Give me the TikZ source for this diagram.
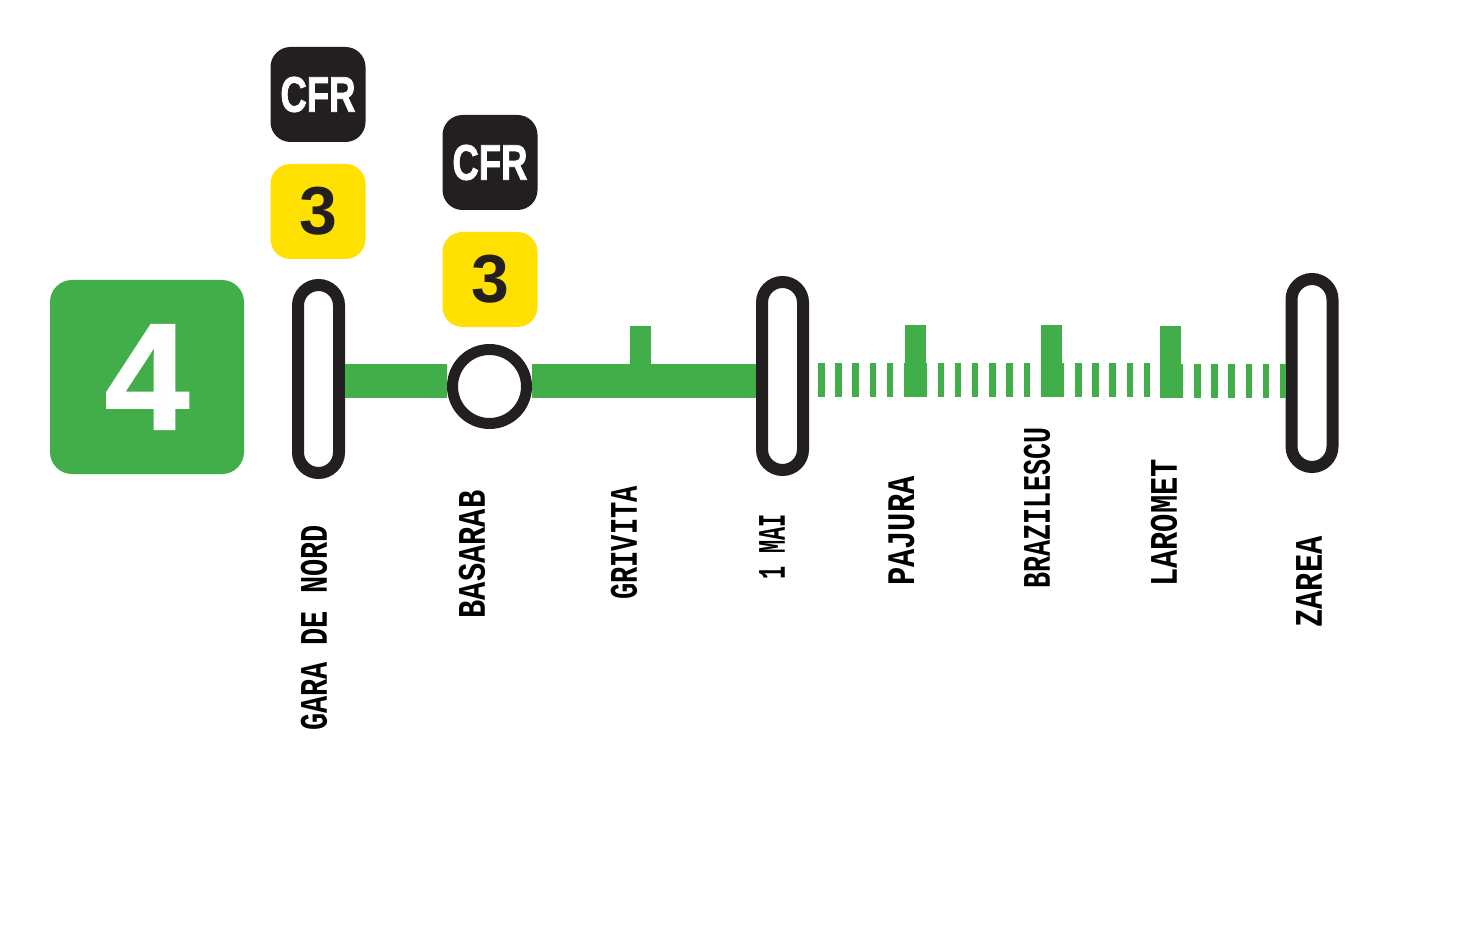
\documentclass[tikz,border=0pt]{standalone}
\usepackage{fontspec}
\setmainfont{Liberation Sans}
\newfontfamily\fonteCFR[FakeStretch=0.73,FakeBold=1.5]{Liberation Sans}
\newfontfamily\fonteLCD[FakeStretch=0.78]{Liberation Mono}
\newfontfamily\fonteNum[FakeBold=1.2]{Liberation Sans}
\definecolor{vertligne}{HTML}{41AE4A}
\definecolor{noirstation}{HTML}{231F20}
\definecolor{jaunemetro}{HTML}{FFE000}
\begin{document}
\begin{tikzpicture}[x=0.5pt,y=-0.5pt]
% Styles
\tikzstyle{ligne}=[-,vertligne,line width=17pt]
\tikzstyle{tirets}=[ligne,dash pattern=on 3.25pt off 5.35pt]
\tikzstyle{numero}=[fill=vertligne,text=white,rounded corners=11pt,minimum width=97pt,minimum height=97pt,inner sep=0pt,font=\fonteNum\bfseries\fontsize{76}{76}\selectfont]
\tikzstyle{carreCFR}=[fill=noirstation,text=white,rounded corners=10pt,minimum width=47.5pt,minimum height=47.5pt,inner sep=0pt,font=\fonteCFR\bfseries\fontsize{25}{25}\selectfont]
\tikzstyle{carreM}=[fill=jaunemetro,text=noirstation,rounded corners=10pt,minimum width=47.5pt,minimum height=47.5pt,inner sep=0pt,font=\bfseries\fontsize{34}{34}\selectfont]
\tikzstyle{terminus}=[draw=noirstation,fill=white,line width=6pt,rounded corners=10.25pt,minimum width=20.5pt,minimum height=94pt,inner sep=0pt]
\tikzstyle{rond}=[circle,draw=noirstation,fill=white,line width=5.5pt,minimum size=37pt,inner sep=0pt]
\tikzstyle{haut}=[fill=vertligne,minimum width=10.5pt,minimum height=20pt,inner sep=0pt]
\tikzstyle{base}=[fill=vertligne,minimum width=11.5pt,minimum height=17pt,inner sep=0pt]
\tikzstyle{etiquette}=[rotate=90,transform shape,inner sep=0pt,text=black,font=\fonteLCD\bfseries\fontsize{19.5}{19.5}\selectfont]
% Cadre
\useasboundingbox (0,0) rectangle (1483,936);
% Noeuds
\node[numero] (Num) at (147,377) {4};
\node[carreCFR] (CFRa) at (318,94.5) {CFR};
\node[carreM] (Ma) at (318,211.5) {3};
\node[carreCFR] (CFRb) at (490,162.5) {CFR};
\node[carreM] (Mb) at (490,279.5) {3};
\node[terminus] (Gara) at (318.5,379) {};
\node[rond] (Basarab) at (489.5,386.5) {};
\node[terminus] (Mai) at (782.5,376) {};
\node[terminus] (Zarea) at (1312,373) {};
\node[fill=vertligne,minimum width=10.5pt,minimum height=19.5pt,inner sep=0pt] (Grivita) at (640.5,345.5) {};
\node[haut] (PajH) at (915,345) {};
\node[base] (PajB) at (915,380) {};
\node[haut] (BraH) at (1051.5,345) {};
\node[base] (BraB) at (1052,380) {};
\node[haut] (LarH) at (1170.5,346) {};
\node[base] (LarB) at (1171.5,381) {};
% Points de la ligne
\coordinate (Y) at (0,381);
\coordinate (Da) at (818,380);
\coordinate (Db) at (937.5,380);
\coordinate (Dc) at (1075,380);
\coordinate (Dd) at (1194,381);
% Arcs
\draw[ligne] (Gara.east |- Y)--(Basarab.west |- Y);
\draw[ligne] (Basarab.east |- Y)--(Mai.west |- Y);
\draw[tirets] (Da)--(PajB.west);
\draw[tirets] (Db)--(BraB.west);
\draw[tirets] (Dc)--(LarB.west |- Dc);
\draw[tirets] (Dd)--(Zarea.west |- Dd);
% Etiquettes
\node[etiquette,xscale=0.94] (EtGara) at (314,628) {GARA DE NORD};
\node[etiquette] (EtBasarab) at (472,554.5) {BASARAB};
\node[etiquette,xscale=0.89] (EtGrivita) at (624,543) {GRIVITA};
\node[etiquette,xscale=0.72] (EtMai) at (772,547) {1 MAI};
\node[etiquette] (EtPajura) at (901.5,531) {PAJURA};
\node[etiquette,xscale=0.88] (EtBrazilescu) at (1037,508) {BRAZILESCU};
\node[etiquette] (EtLaromet) at (1164,523) {LAROMET};
\node[etiquette] (EtZarea) at (1309,582) {ZAREA};
\end{tikzpicture}
\end{document}
